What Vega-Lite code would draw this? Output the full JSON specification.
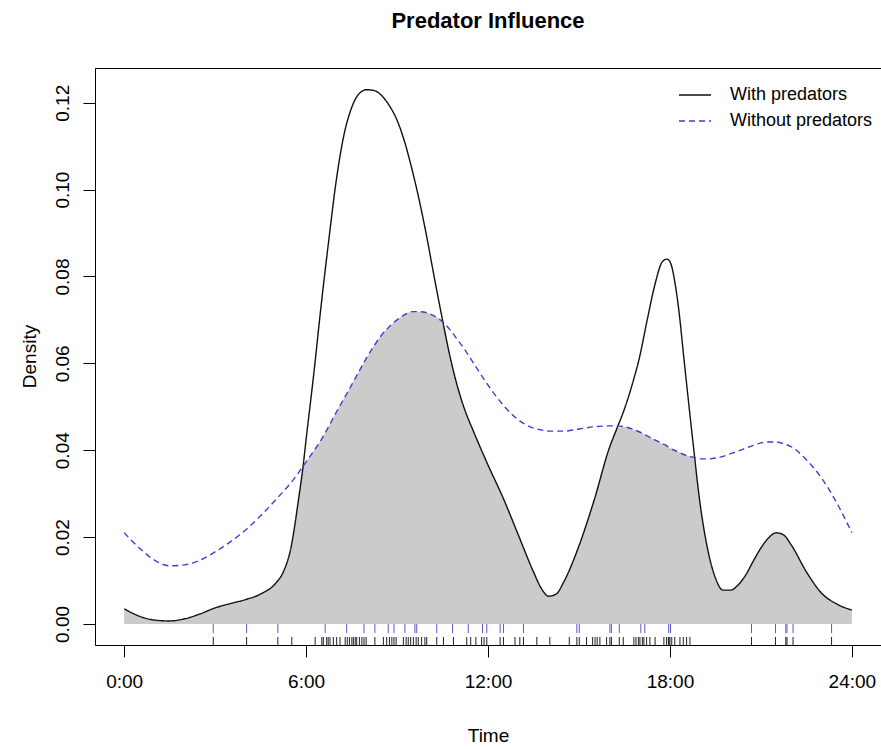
{
  "$schema": "https://vega.github.io/schema/vega-lite/v6.json",
  "width": 786,
  "height": 577,
  "autosize": {"type": "none"},
  "padding": {"left": 95, "top": 68, "right": 0, "bottom": 104},
  "background": "white",
  "config": {
    "font": "Liberation Sans",
    "view": {"stroke": "black", "strokeWidth": 1},
    "axis": {"grid": false, "domain": false, "tickColor": "black", "tickWidth": 1, "tickSize": 12, "labelColor": "black", "labelFontSize": 19, "titleColor": "black", "titleFontSize": 19, "titleFontWeight": "normal"}
  },
  "title": {"text": "Predator Influence", "fontSize": 22, "fontWeight": "bold", "color": "black", "anchor": "middle", "frame": "group", "offset": 35},
  "datasets": {
    "curves": [
      {"t": 0, "With predators": 0.0035, "Without predators": 0.0210, "ov": 0.0035},
      {"t": 0.5, "With predators": 0.0018, "Without predators": 0.0175, "ov": 0.0018},
      {"t": 1.0, "With predators": 0.0009, "Without predators": 0.0147, "ov": 0.0009},
      {"t": 1.5, "With predators": 0.0007, "Without predators": 0.0134, "ov": 0.0007},
      {"t": 2.0, "With predators": 0.0012, "Without predators": 0.0136, "ov": 0.0012},
      {"t": 2.5, "With predators": 0.0023, "Without predators": 0.0147, "ov": 0.0023},
      {"t": 3.0, "With predators": 0.0037, "Without predators": 0.0166, "ov": 0.0037},
      {"t": 3.5, "With predators": 0.0047, "Without predators": 0.0189, "ov": 0.0047},
      {"t": 4.0, "With predators": 0.0056, "Without predators": 0.0216, "ov": 0.0056},
      {"t": 4.5, "With predators": 0.0069, "Without predators": 0.0249, "ov": 0.0069},
      {"t": 5.0, "With predators": 0.0094, "Without predators": 0.0286, "ov": 0.0094},
      {"t": 5.25, "With predators": 0.0120, "Without predators": 0.0305, "ov": 0.0120},
      {"t": 5.5, "With predators": 0.0175, "Without predators": 0.0325, "ov": 0.0175},
      {"t": 5.75, "With predators": 0.0286, "Without predators": 0.0348, "ov": 0.0286},
      {"t": 5.9, "With predators": 0.0362, "Without predators": 0.0363, "ov": 0.0362},
      {"t": 6.0, "With predators": 0.0424, "Without predators": 0.0373, "ov": 0.0373},
      {"t": 6.25, "With predators": 0.0573, "Without predators": 0.0398, "ov": 0.0398},
      {"t": 6.5, "With predators": 0.0735, "Without predators": 0.0424, "ov": 0.0424},
      {"t": 6.75, "With predators": 0.0884, "Without predators": 0.0455, "ov": 0.0455},
      {"t": 7.0, "With predators": 0.1023, "Without predators": 0.0488, "ov": 0.0488},
      {"t": 7.25, "With predators": 0.1126, "Without predators": 0.0519, "ov": 0.0519},
      {"t": 7.5, "With predators": 0.1188, "Without predators": 0.0550, "ov": 0.0550},
      {"t": 7.75, "With predators": 0.1221, "Without predators": 0.0582, "ov": 0.0582},
      {"t": 8.0, "With predators": 0.1230, "Without predators": 0.0613, "ov": 0.0613},
      {"t": 8.25, "With predators": 0.1228, "Without predators": 0.0641, "ov": 0.0641},
      {"t": 8.5, "With predators": 0.1216, "Without predators": 0.0666, "ov": 0.0666},
      {"t": 8.75, "With predators": 0.1193, "Without predators": 0.0685, "ov": 0.0685},
      {"t": 9.0, "With predators": 0.1160, "Without predators": 0.0700, "ov": 0.0700},
      {"t": 9.25, "With predators": 0.1110, "Without predators": 0.0712, "ov": 0.0712},
      {"t": 9.5, "With predators": 0.1045, "Without predators": 0.0719, "ov": 0.0719},
      {"t": 9.75, "With predators": 0.0970, "Without predators": 0.0719, "ov": 0.0719},
      {"t": 10.0, "With predators": 0.0884, "Without predators": 0.0716, "ov": 0.0716},
      {"t": 10.25, "With predators": 0.0790, "Without predators": 0.0708, "ov": 0.0708},
      {"t": 10.5, "With predators": 0.0700, "Without predators": 0.0696, "ov": 0.0696},
      {"t": 10.75, "With predators": 0.0615, "Without predators": 0.0677, "ov": 0.0615},
      {"t": 11.0, "With predators": 0.0545, "Without predators": 0.0654, "ov": 0.0545},
      {"t": 11.25, "With predators": 0.0490, "Without predators": 0.0630, "ov": 0.0490},
      {"t": 11.5, "With predators": 0.0447, "Without predators": 0.0603, "ov": 0.0447},
      {"t": 12.0, "With predators": 0.0366, "Without predators": 0.0550, "ov": 0.0366},
      {"t": 12.5, "With predators": 0.0290, "Without predators": 0.0504, "ov": 0.0290},
      {"t": 13.0, "With predators": 0.0205, "Without predators": 0.0470, "ov": 0.0205},
      {"t": 13.5, "With predators": 0.0120, "Without predators": 0.0451, "ov": 0.0120},
      {"t": 13.75, "With predators": 0.0083, "Without predators": 0.0447, "ov": 0.0083},
      {"t": 14.0, "With predators": 0.0064, "Without predators": 0.0444, "ov": 0.0064},
      {"t": 14.25, "With predators": 0.0069, "Without predators": 0.0444, "ov": 0.0069},
      {"t": 14.5, "With predators": 0.0097, "Without predators": 0.0444, "ov": 0.0097},
      {"t": 15.0, "With predators": 0.0180, "Without predators": 0.0449, "ov": 0.0180},
      {"t": 15.5, "With predators": 0.0285, "Without predators": 0.0454, "ov": 0.0285},
      {"t": 16.0, "With predators": 0.0405, "Without predators": 0.0456, "ov": 0.0405},
      {"t": 16.25, "With predators": 0.0450, "Without predators": 0.0456, "ov": 0.0450},
      {"t": 16.5, "With predators": 0.0495, "Without predators": 0.0454, "ov": 0.0454},
      {"t": 16.75, "With predators": 0.0550, "Without predators": 0.0449, "ov": 0.0449},
      {"t": 17.0, "With predators": 0.0615, "Without predators": 0.0442, "ov": 0.0442},
      {"t": 17.25, "With predators": 0.0700, "Without predators": 0.0433, "ov": 0.0433},
      {"t": 17.5, "With predators": 0.0780, "Without predators": 0.0424, "ov": 0.0424},
      {"t": 17.75, "With predators": 0.0834, "Without predators": 0.0415, "ov": 0.0415},
      {"t": 17.9, "With predators": 0.0840, "Without predators": 0.0410, "ov": 0.0410},
      {"t": 18.0, "With predators": 0.0834, "Without predators": 0.0405, "ov": 0.0405},
      {"t": 18.25, "With predators": 0.0746, "Without predators": 0.0397, "ov": 0.0397},
      {"t": 18.5, "With predators": 0.0585, "Without predators": 0.0389, "ov": 0.0389},
      {"t": 18.75, "With predators": 0.0424, "Without predators": 0.0384, "ov": 0.0384},
      {"t": 19.0, "With predators": 0.0274, "Without predators": 0.0380, "ov": 0.0274},
      {"t": 19.25, "With predators": 0.0170, "Without predators": 0.0380, "ov": 0.0170},
      {"t": 19.5, "With predators": 0.0106, "Without predators": 0.0382, "ov": 0.0106},
      {"t": 19.75, "With predators": 0.0078, "Without predators": 0.0386, "ov": 0.0078},
      {"t": 20.0, "With predators": 0.0078, "Without predators": 0.0392, "ov": 0.0078},
      {"t": 20.25, "With predators": 0.0090, "Without predators": 0.0398, "ov": 0.0090},
      {"t": 20.5, "With predators": 0.0113, "Without predators": 0.0405, "ov": 0.0113},
      {"t": 20.75, "With predators": 0.0145, "Without predators": 0.0411, "ov": 0.0145},
      {"t": 21.0, "With predators": 0.0175, "Without predators": 0.0417, "ov": 0.0175},
      {"t": 21.25, "With predators": 0.0198, "Without predators": 0.0419, "ov": 0.0198},
      {"t": 21.5, "With predators": 0.0210, "Without predators": 0.0419, "ov": 0.0210},
      {"t": 21.75, "With predators": 0.0205, "Without predators": 0.0415, "ov": 0.0205},
      {"t": 22.0, "With predators": 0.0182, "Without predators": 0.0408, "ov": 0.0182},
      {"t": 22.5, "With predators": 0.0120, "Without predators": 0.0378, "ov": 0.0120},
      {"t": 23.0, "With predators": 0.0071, "Without predators": 0.0336, "ov": 0.0071},
      {"t": 23.5, "With predators": 0.0046, "Without predators": 0.0279, "ov": 0.0046},
      {"t": 24.0, "With predators": 0.0032, "Without predators": 0.0210, "ov": 0.0032}
    ],
    "rug": [
      {"t": 2.94, "g": "wo"}, {"t": 4.04, "g": "wo"}, {"t": 5.07, "g": "wo"}, {"t": 6.63, "g": "wo"}, {"t": 7.34, "g": "wo"},
      {"t": 7.91, "g": "wo"}, {"t": 8.27, "g": "wo"}, {"t": 8.71, "g": "wo"}, {"t": 8.90, "g": "wo"}, {"t": 9.26, "g": "wo"},
      {"t": 9.59, "g": "wo"}, {"t": 9.65, "g": "wo"}, {"t": 10.31, "g": "wo"}, {"t": 10.83, "g": "wo"}, {"t": 11.35, "g": "wo"},
      {"t": 11.82, "g": "wo"}, {"t": 11.96, "g": "wo"}, {"t": 12.40, "g": "wo"}, {"t": 12.51, "g": "wo"}, {"t": 13.17, "g": "wo"},
      {"t": 14.93, "g": "wo"}, {"t": 15.01, "g": "wo"}, {"t": 16.02, "g": "wo"}, {"t": 16.07, "g": "wo"}, {"t": 16.33, "g": "wo"},
      {"t": 17.04, "g": "wo"}, {"t": 17.17, "g": "wo"}, {"t": 17.96, "g": "wo"}, {"t": 18.02, "g": "wo"}, {"t": 20.69, "g": "wo"},
      {"t": 21.48, "g": "wo"}, {"t": 21.82, "g": "wo"}, {"t": 21.86, "g": "wo"}, {"t": 22.06, "g": "wo"}, {"t": 23.33, "g": "wo"},
      {"t": 2.94, "g": "w"}, {"t": 4.04, "g": "w"}, {"t": 5.07, "g": "w"}, {"t": 5.53, "g": "w"}, {"t": 6.30, "g": "w"},
      {"t": 6.52, "g": "w"}, {"t": 6.57, "g": "w"}, {"t": 6.68, "g": "w"}, {"t": 6.73, "g": "w"}, {"t": 6.79, "g": "w"},
      {"t": 6.90, "g": "w"}, {"t": 7.01, "g": "w"}, {"t": 7.12, "g": "w"}, {"t": 7.29, "g": "w"}, {"t": 7.36, "g": "w"},
      {"t": 7.43, "g": "w"}, {"t": 7.51, "g": "w"}, {"t": 7.56, "g": "w"}, {"t": 7.62, "g": "w"}, {"t": 7.67, "g": "w"},
      {"t": 7.76, "g": "w"}, {"t": 7.84, "g": "w"}, {"t": 7.91, "g": "w"}, {"t": 7.98, "g": "w"}, {"t": 8.27, "g": "w"},
      {"t": 8.55, "g": "w"}, {"t": 8.66, "g": "w"}, {"t": 8.75, "g": "w"}, {"t": 8.83, "g": "w"}, {"t": 8.90, "g": "w"},
      {"t": 8.97, "g": "w"}, {"t": 9.21, "g": "w"}, {"t": 9.30, "g": "w"}, {"t": 9.37, "g": "w"}, {"t": 9.45, "g": "w"},
      {"t": 9.54, "g": "w"}, {"t": 9.63, "g": "w"}, {"t": 9.70, "g": "w"}, {"t": 9.81, "g": "w"}, {"t": 9.92, "g": "w"},
      {"t": 9.98, "g": "w"}, {"t": 10.31, "g": "w"}, {"t": 10.53, "g": "w"}, {"t": 10.86, "g": "w"}, {"t": 11.30, "g": "w"},
      {"t": 11.43, "g": "w"}, {"t": 11.60, "g": "w"}, {"t": 11.79, "g": "w"}, {"t": 11.87, "g": "w"}, {"t": 11.96, "g": "w"},
      {"t": 12.40, "g": "w"}, {"t": 12.51, "g": "w"}, {"t": 12.89, "g": "w"}, {"t": 13.05, "g": "w"}, {"t": 13.17, "g": "w"},
      {"t": 13.61, "g": "w"}, {"t": 14.04, "g": "w"}, {"t": 14.68, "g": "w"}, {"t": 14.93, "g": "w"}, {"t": 15.01, "g": "w"},
      {"t": 15.25, "g": "w"}, {"t": 15.45, "g": "w"}, {"t": 15.53, "g": "w"}, {"t": 15.60, "g": "w"}, {"t": 15.69, "g": "w"},
      {"t": 15.91, "g": "w"}, {"t": 16.02, "g": "w"}, {"t": 16.07, "g": "w"}, {"t": 16.33, "g": "w"}, {"t": 16.46, "g": "w"},
      {"t": 16.81, "g": "w"}, {"t": 16.88, "g": "w"}, {"t": 16.96, "g": "w"}, {"t": 17.01, "g": "w"}, {"t": 17.09, "g": "w"},
      {"t": 17.14, "g": "w"}, {"t": 17.23, "g": "w"}, {"t": 17.34, "g": "w"}, {"t": 17.51, "g": "w"}, {"t": 17.80, "g": "w"},
      {"t": 17.89, "g": "w"}, {"t": 17.95, "g": "w"}, {"t": 17.97, "g": "w"}, {"t": 18.00, "g": "w"}, {"t": 18.06, "g": "w"},
      {"t": 18.16, "g": "w"}, {"t": 18.33, "g": "w"}, {"t": 18.44, "g": "w"}, {"t": 18.55, "g": "w"}, {"t": 18.66, "g": "w"},
      {"t": 20.69, "g": "w"}, {"t": 21.48, "g": "w"}, {"t": 21.82, "g": "w"}, {"t": 21.86, "g": "w"}, {"t": 22.06, "g": "w"},
      {"t": 23.33, "g": "w"}
    ]
  },
  "layer": [
    {
      "data": {"name": "curves"},
      "mark": {"type": "area", "color": "#cbcbcb", "interpolate": "monotone"},
      "encoding": {
        "x": {"field": "t", "type": "quantitative", "scale": {"domain": [-0.96, 24.96], "nice": false, "zero": false},
          "axis": {"values": [0, 6, 12, 18, 24], "labelExpr": "datum.value + ':00'", "labelPadding": 15, "title": "Time", "titleY": 96, "titleBaseline": "alphabetic"}},
        "y": {"field": "ov", "type": "quantitative", "scale": {"domain": [-0.00484, 0.128], "nice": false, "zero": false},
          "axis": {"values": [0, 0.02, 0.04, 0.06, 0.08, 0.1, 0.12], "format": ".2f", "labelAngle": -90, "labelAlign": "center", "labelBaseline": "alphabetic", "labelPadding": 15, "title": "Density", "titleX": -60, "titleY": 288, "titleAngle": -90, "titleBaseline": "alphabetic", "titleAlign": "center"}},
        "y2": {"datum": 0}
      }
    },
    {
      "data": {"name": "rug"},
      "transform": [{"filter": "datum.g == 'wo'"}],
      "mark": {"type": "rule", "color": "#5858d8", "strokeWidth": 1},
      "encoding": {"x": {"field": "t", "type": "quantitative"}, "y": {"datum": 0}, "y2": {"datum": -0.0021}}
    },
    {
      "data": {"name": "rug"},
      "transform": [{"filter": "datum.g == 'w'"}],
      "mark": {"type": "rule", "color": "#222222", "strokeWidth": 1},
      "encoding": {"x": {"field": "t", "type": "quantitative"}, "y": {"datum": -0.0030}, "y2": {"datum": -0.00484}}
    },
    {
      "data": {"name": "curves"},
      "transform": [{"fold": ["With predators", "Without predators"], "as": ["grp", "dens"]}],
      "mark": {"type": "line", "interpolate": "monotone", "strokeWidth": 1.4},
      "encoding": {
        "x": {"field": "t", "type": "quantitative"},
        "y": {"field": "dens", "type": "quantitative"},
        "color": {"field": "grp", "type": "nominal", "scale": {"domain": ["With predators", "Without predators"], "range": ["#111111", "#3f3fd0"]},
          "legend": {"title": null, "orient": "none", "legendX": 583, "legendY": 10, "padding": 0, "symbolType": "stroke", "symbolSize": 1024, "symbolStrokeWidth": 1.5, "labelFontSize": 18, "labelColor": "black", "labelOffset": 18, "rowPadding": -12}},
        "strokeDash": {"field": "grp", "type": "nominal", "scale": {"domain": ["With predators", "Without predators"], "range": [[1, 0], [6, 4]]},
          "legend": {"title": null, "orient": "none", "legendX": 583, "legendY": 10, "padding": 0, "symbolType": "stroke", "symbolSize": 1024, "symbolStrokeWidth": 1.5, "labelFontSize": 18, "labelColor": "black", "labelOffset": 18, "rowPadding": -12}}
      }
    }
  ]
}
